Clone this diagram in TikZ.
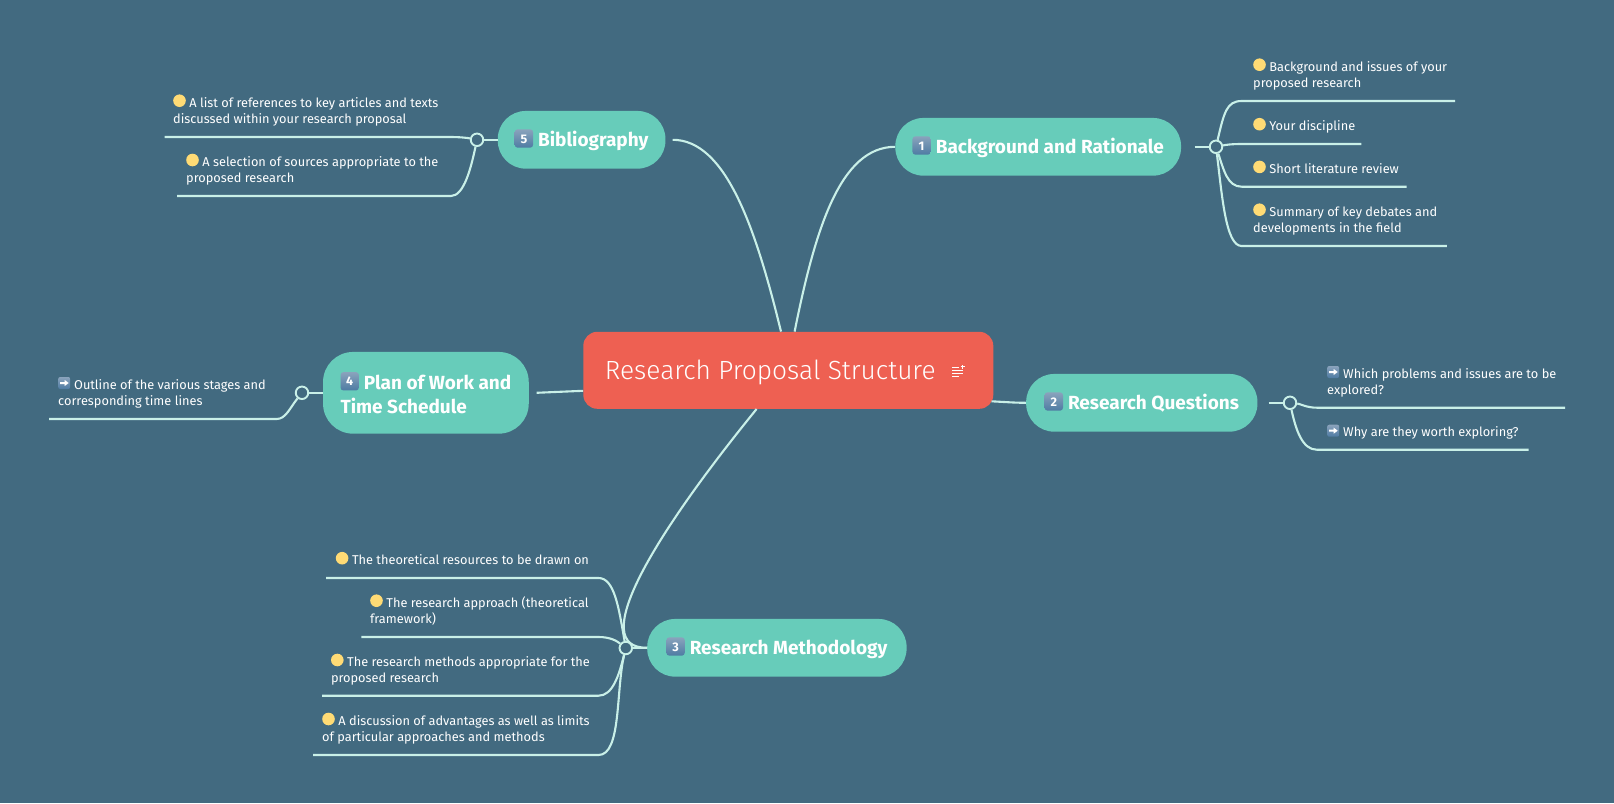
\documentclass[tikz,border=0pt]{standalone}
\usepackage{fontspec}
\setmainfont{Fira Sans}
\newfontfamily\lightfont{Fira Sans Light}
\usepackage{tikz}

\definecolor{bgcol}{HTML}{426A80}
\definecolor{topiccol}{HTML}{67CCBA}
\definecolor{rootcol}{HTML}{EE6052}
\definecolor{linecol}{HTML}{C9F0E8}
\definecolor{dotcol}{HTML}{FFDB75}
\definecolor{captop}{HTML}{8AA3BC}
\definecolor{capbot}{HTML}{4E7BA3}

% small icons set inside the labels
\newcommand{\ydot}{\tikz[x=1pt,y=1pt,baseline=-0.2pt]\fill[dotcol] (6.3,6.3) circle (6.3);\hspace{3.6pt}}
\newcommand{\kcap}[1]{\tikz[x=1pt,y=1pt,baseline=1pt]\shade[top color=captop,bottom color=capbot,rounded corners=3pt] (0,0) rectangle (18.4,18.4);\llap{\makebox[18.4pt]{\raisebox{3.6pt}{\fontsize{12.5}{13}\selectfont #1}}}\hspace{5pt}}
\newcommand{\rarr}{\tikz[x=1pt,y=1pt,baseline=0pt]{\shade[top color=captop,bottom color=capbot,rounded corners=2pt] (0,0) rectangle (12,12);\fill[white] (2,5) -- (6.5,5) -- (6.5,3) -- (10.5,6) -- (6.5,9) -- (6.5,7) -- (2,7) -- cycle;}\hspace{4pt}}
\newcommand{\noteicon}{\tikz[x=1pt,y=1pt,baseline=0pt]\draw[white,line width=1pt] (0,11.5) -- (7,11.5) (0,8.5) -- (10.5,8.5) (0,5.5) -- (10.5,5.5) (0,2.5) -- (7,2.5) (8.5,12.5) -- (12.5,12.5) (10.5,10.5) -- (10.5,14.5);}

\begin{document}
\begin{tikzpicture}[
      x=1pt, y=-1pt,
      topic/.style={
        rectangle,
        rounded corners=28pt,
        fill=topiccol,
        text=white,
        inner sep=0pt,
        align=left,
        font=\fontsize{19}{23.7}\selectfont\bfseries
      },
      leaf/.style={
        anchor=north west,
        inner sep=0pt,
        text=white,
        align=left,
        font=\fontsize{12.78}{16}\selectfont,
        execute at begin node=\rule{0pt}{13pt}
      },
      hub/.style={
        circle,
        draw=linecol,
        fill=bgcol,
        line width=1.9pt,
        minimum size=12.5pt,
        inner sep=0pt
      },
      link/.style={draw=linecol, line width=2.1pt}
    ]

    \fill[bgcol] (0,0) rectangle (1614,803);
    \useasboundingbox (0,0) rectangle (1614,803);

    \node [rectangle, rounded corners=14pt, fill=rootcol, text=white, inner sep=0pt,
      minimum width=410pt, minimum height=77pt, text height=25pt, text depth=6.7pt,
      font=\fontsize{26.3}{30}\lightfont] (root) at (788.3,370.3)
      {Research Proposal Structure\hspace{16pt}\noteicon\hspace{6.5pt}\mbox{}};

    \node [topic, minimum width=285.7pt, minimum height=57.7pt, text height=18pt, text depth=4.2pt] (back) at (1038.2,146.8) {\kcap{1}Background and Rationale};
    \node [topic, minimum width=231.3pt, minimum height=57.7pt, text height=18pt, text depth=4.2pt] (ques) at (1141.8,402.8) {\kcap{2}Research Questions};
    \node [topic, minimum width=259.4pt, minimum height=57.7pt, text height=18pt, text depth=4.2pt] (meth) at (776.9,647.8) {\kcap{3}Research Methodology};
    \node [topic, minimum width=205.7pt, minimum height=81.7pt, rounded corners=30pt] (plan) at (425.9,392.8) {\kcap{4}Plan of Work and\\Time Schedule};
    \node [topic, minimum width=167.7pt, minimum height=57.7pt, text height=18pt, text depth=4.2pt] (bibl) at (581.6,139.8) {\kcap{5}Bibliography};

    \node [hub] (hback) at (1216,146.8) {};
    \node [hub] (hques) at (1290,402.8) {};
    \node [hub] (hmeth) at (625.8,648) {};
    \node [hub] (hplan) at (302,392.8) {};
    \node [hub] (hbibl) at (477,139.8) {};

    % root to topics
    \draw [link] ([xshift=6.3pt]root.north) .. controls (815,230) and (840,146.8) .. (back.west);
    \draw [link] ([xshift=-2pt,yshift=-31pt]root.east) .. controls (1005,402) and (1015,402.8) .. (ques.west);
    \draw [link] ([xshift=-31.7pt]root.south) .. controls (650,540) and (587,648) .. (meth.west);
    \draw [link] ([yshift=-20.5pt]root.west) -- ([xshift=7.6pt]plan.east);
    \draw [link] ([xshift=-7.3pt]root.north) .. controls (755,225) and (725,139.8) .. ([xshift=7pt]bibl.east);

    % topics to hubs
    \draw [link] ([xshift=13.4pt]back.east) -- (hback);
    \draw [link] ([xshift=11pt]ques.east) -- (hques);
    \draw [link] (meth.west) -- (hmeth);
    \draw [link] (plan.west) -- (hplan);
    \draw [link] (bibl.west) -- (hbibl);

    % Background and Rationale
    \node [leaf] (b1) at (1253,58.2) {\ydot Background and issues of your\\proposed research};
    \node [leaf] (b2) at (1253,117.5) {\ydot Your discipline};
    \node [leaf] (b3) at (1253,160.2) {\ydot Short literature review};
    \node [leaf] (b4) at (1253,203.2) {\ydot Summary of key debates and\\developments in the field};
    \coordinate (b1a) at (1241.6,101);
    \coordinate (b1b) at (1455,101);
    \coordinate (b2a) at (1241.6,144);
    \coordinate (b2b) at (1361.4,144);
    \coordinate (b3a) at (1241.6,186.7);
    \coordinate (b3b) at (1406.6,186.7);
    \coordinate (b4a) at (1241.6,246);
    \coordinate (b4b) at (1446.8,246);
    \draw [link] (hback) .. controls +(8,-34) and +(-15,0) .. (b1a) -- (b1b);
    \draw [link] (hback) .. controls +(10,-2) and +(-10,0) .. (b2a) -- (b2b);
    \draw [link] (hback) .. controls +(8,24) and +(-14,0) .. (b3a) -- (b3b);
    \draw [link] (hback) .. controls +(6,48) and +(-16,0) .. (b4a) -- (b4b);

    % Research Questions
    \node [leaf] (q1) at (1327,365.8) {\rarr Which problems and issues are to be\\explored?};
    \node [leaf] (q2) at (1327,423.5) {\rarr Why are they worth exploring?};
    \coordinate (q1a) at (1316.7,407.7);
    \coordinate (q1b) at (1565,407.7);
    \coordinate (q2a) at (1316.7,449.7);
    \coordinate (q2b) at (1528.7,449.7);
    \draw [link] (hques) .. controls +(10,1) and +(-10,0) .. (q1a) -- (q1b);
    \draw [link] (hques) .. controls +(6,28) and +(-14,0) .. (q2a) -- (q2b);

    % Research Methodology
    \node [leaf] (m1) at (335.6,551.5) {\ydot The theoretical resources to be drawn on};
    \node [leaf] (m2) at (370,594.2) {\ydot The research approach (theoretical\\framework)};
    \node [leaf] (m3) at (330.8,653.5) {\ydot The research methods appropriate for the\\proposed research};
    \node [leaf] (m4) at (322,712.5) {\ydot A discussion of advantages as well as limits\\of particular approaches and methods};
    \coordinate (m1a) at (598.5,578);
    \coordinate (m1b) at (326,578);
    \coordinate (m2a) at (598.5,637);
    \coordinate (m2b) at (361.3,637);
    \coordinate (m3a) at (598.5,695.7);
    \coordinate (m3b) at (322,695.7);
    \coordinate (m4a) at (598.5,755);
    \coordinate (m4b) at (313,755);
    \draw [link] (hmeth) .. controls +(-7,-40) and +(16,0) .. (m1a) -- (m1b);
    \draw [link] (hmeth) .. controls +(-9,-7) and +(12,0) .. (m2a) -- (m2b);
    \draw [link] (hmeth) .. controls +(-7,28) and +(14,0) .. (m3a) -- (m3b);
    \draw [link] (hmeth) .. controls +(-10,42) and +(23,0) .. (m4a) -- (m4b);

    % Plan of Work
    \node [leaf] (p1) at (58,376.8) {\rarr Outline of the various stages and\\corresponding time lines};
    \coordinate (p1a) at (276.7,419);
    \coordinate (p1b) at (49,419);
    \draw [link] (hplan) .. controls +(-12,15) and +(9,0) .. (p1a) -- (p1b);

    % Bibliography
    \node [leaf] (r1) at (173,94.2) {\ydot A list of references to key articles and texts\\discussed within your research proposal};
    \node [leaf] (r2) at (186,153.5) {\ydot A selection of sources appropriate to the\\proposed research};
    \coordinate (r1a) at (449.6,137);
    \coordinate (r1b) at (164.5,137);
    \coordinate (r2a) at (451,196);
    \coordinate (r2b) at (177,196);
    \draw [link] (hbibl) .. controls +(-10,-2) and +(10,0) .. (r1a) -- (r1b);
    \draw [link] (hbibl) .. controls +(-6,28) and +(13,0) .. (r2a) -- (r2b);

    \end{tikzpicture}
\end{document}
